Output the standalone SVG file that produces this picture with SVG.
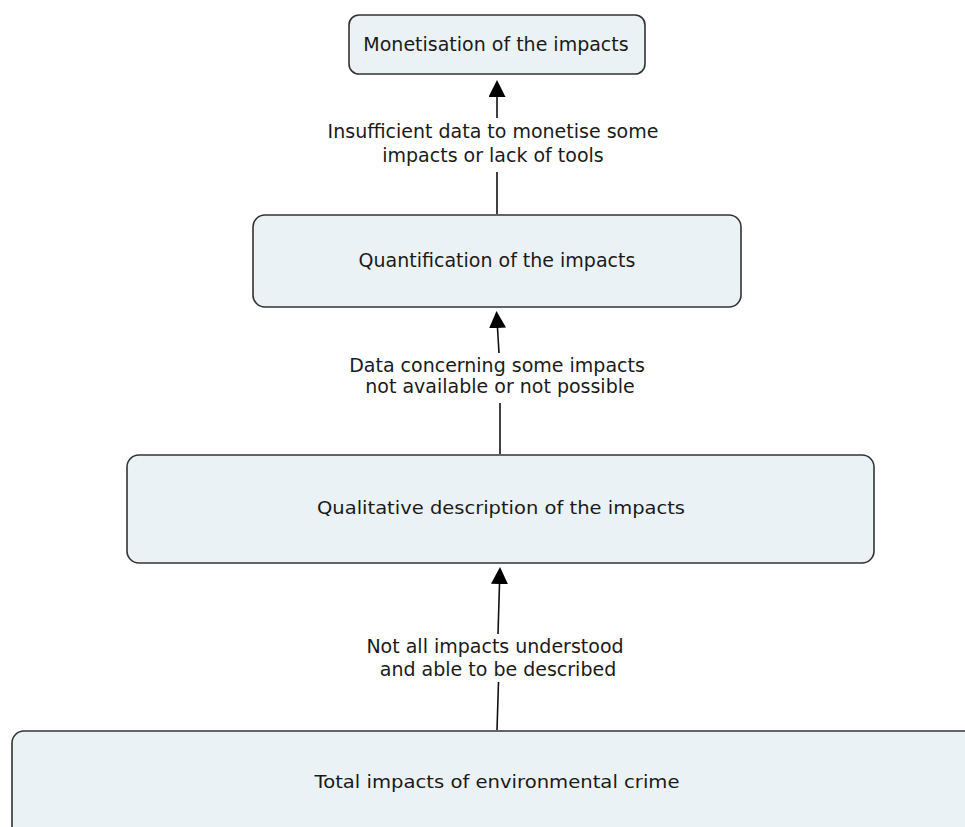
<svg xmlns="http://www.w3.org/2000/svg" width="965" height="827" viewBox="0 0 965 827">
<style>
.box{fill:#EAF2F5;stroke:#333333;stroke-width:1.6}
.t{font-family:"DejaVu Sans","Verdana",sans-serif;font-size:19px;fill:#1a1a1a;text-anchor:middle}
.tc{font-family:"DejaVu Sans","Verdana",sans-serif;font-size:18px;fill:#1a1a1a;text-anchor:middle}
.ln{stroke:#111111;stroke-width:1.6;fill:none}
</style>
<defs>
<marker id="ah" markerUnits="userSpaceOnUse" markerWidth="17" markerHeight="17" refX="0" refY="8.5" orient="auto">
<path d="M0,0 L17,8.5 L0,17 z" fill="#000000"/>
</marker>
</defs>
<rect width="965" height="827" fill="#ffffff"/>
<g id="connectors">
<line class="ln" x1="497" y1="118" x2="497" y2="97" marker-end="url(#ah)"/>
<line class="ln" x1="497" y1="172" x2="497" y2="214"/>
<line class="ln" x1="499" y1="353" x2="497.5" y2="328" marker-end="url(#ah)"/>
<line class="ln" x1="500" y1="403" x2="500" y2="454"/>
<line class="ln" x1="498" y1="634" x2="499.5" y2="584" marker-end="url(#ah)"/>
<line class="ln" x1="498.5" y1="682" x2="497" y2="730"/>
<text class="t" x="493" y="138">Insufficient data to monetise some</text>
<text class="t" x="493" y="162">impacts or lack of tools</text>
<text class="t" x="497" y="372">Data concerning some impacts</text>
<text class="t" x="500" y="393">not available or not possible</text>
<text class="t" x="495" y="653">Not all impacts understood</text>
<text class="t" x="498" y="676">and able to be described</text>
</g>
<g id="node-monetisation">
<rect class="box" x="349" y="15" width="296" height="59" rx="10"/>
<text class="t" x="496" y="51">Monetisation of the impacts</text>
</g>
<g id="node-quantification">
<rect class="box" x="253" y="215" width="488" height="92" rx="12"/>
<text class="t" x="497" y="267">Quantification of the impacts</text>
</g>
<g id="node-qualitative">
<rect class="box" x="127" y="455" width="747" height="108" rx="12"/>
<text class="tc" x="501" y="514" textLength="368" lengthAdjust="spacingAndGlyphs">Qualitative description of the impacts</text>
</g>
<g id="node-total">
<rect class="box" x="12" y="731" width="1000" height="160" rx="12"/>
<text class="tc" x="497" y="788" textLength="365" lengthAdjust="spacingAndGlyphs">Total impacts of environmental crime</text>
</g>
</svg>
